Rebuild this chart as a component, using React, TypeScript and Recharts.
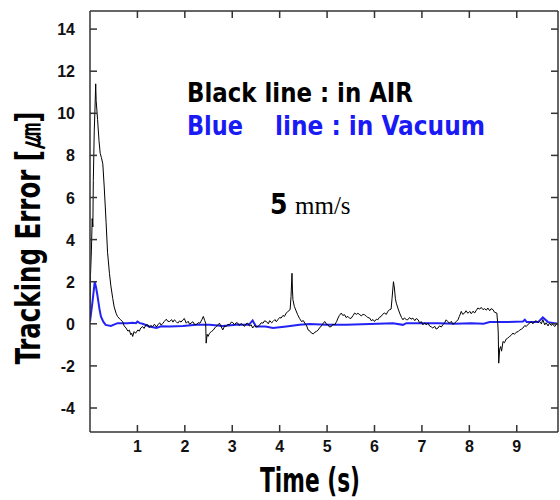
import React from "react";
import { LineChart, Line, XAxis, YAxis } from "recharts";

// tracking error in air (black)
const airTime = [
  0.0, 0.01, 0.03, 0.046, 0.06, 0.07, 0.09, 0.105, 0.12, 0.13, 0.16, 0.19, 0.215, 0.24, 0.27, 0.3, 0.34, 0.37, 0.41, 0.44,
  0.48, 0.51, 0.55, 0.58, 0.64, 0.69, 0.72, 0.76, 0.8, 0.83, 0.86, 0.88, 0.9, 0.93, 0.96, 1.01, 1.04, 1.07, 1.11, 1.14,
  1.18, 1.22, 1.25, 1.28, 1.32, 1.36, 1.4, 1.43, 1.47, 1.5, 1.54, 1.57, 1.61, 1.64, 1.68, 1.72, 1.75, 1.78, 1.82, 1.85,
  1.89, 1.92, 1.96, 1.99, 2.03, 2.07, 2.1, 2.13, 2.17, 2.2, 2.24, 2.28, 2.32, 2.36, 2.39, 2.42, 2.44, 2.45, 2.47, 2.49,
  2.52, 2.56, 2.6, 2.63, 2.66, 2.7, 2.73, 2.77, 2.8, 2.84, 2.87, 2.91, 2.94, 2.98, 3.01, 3.05, 3.08, 3.12, 3.15, 3.19,
  3.22, 3.26, 3.29, 3.33, 3.36, 3.4, 3.43, 3.47, 3.5, 3.54, 3.58, 3.61, 3.65, 3.68, 3.72, 3.76, 3.79, 3.83, 3.86, 3.9,
  3.93, 3.96, 4.0, 4.03, 4.07, 4.1, 4.14, 4.18, 4.22, 4.24, 4.26, 4.27, 4.28, 4.31, 4.34, 4.38, 4.42, 4.46, 4.5, 4.53,
  4.57, 4.6, 4.64, 4.67, 4.71, 4.74, 4.77, 4.81, 4.84, 4.88, 4.91, 4.95, 4.98, 5.02, 5.05, 5.09, 5.12, 5.16, 5.2, 5.23,
  5.26, 5.3, 5.33, 5.37, 5.4, 5.44, 5.48, 5.51, 5.55, 5.58, 5.62, 5.65, 5.69, 5.72, 5.76, 5.79, 5.83, 5.86, 5.9, 5.93,
  5.97, 6.0, 6.04, 6.07, 6.1, 6.14, 6.17, 6.21, 6.25, 6.28, 6.32, 6.35, 6.37, 6.4, 6.42, 6.44, 6.46, 6.5, 6.53, 6.57,
  6.6, 6.63, 6.67, 6.7, 6.74, 6.77, 6.81, 6.85, 6.88, 6.92, 6.95, 6.99, 7.02, 7.06, 7.09, 7.13, 7.16, 7.2, 7.23, 7.27,
  7.3, 7.34, 7.37, 7.41, 7.44, 7.48, 7.51, 7.55, 7.58, 7.62, 7.65, 7.69, 7.72, 7.76, 7.79, 7.83, 7.86, 7.9, 7.93, 7.97,
  8.01, 8.04, 8.08, 8.11, 8.15, 8.18, 8.22, 8.25, 8.29, 8.32, 8.36, 8.39, 8.43, 8.46, 8.5, 8.53, 8.58, 8.6, 8.61, 8.62,
  8.64, 8.66, 8.68, 8.71, 8.74, 8.78, 8.81, 8.85, 8.88, 8.92, 8.95, 8.99, 9.03, 9.06, 9.1, 9.13, 9.17, 9.2, 9.24, 9.27,
  9.31, 9.34, 9.38, 9.41, 9.45, 9.48, 9.52, 9.55, 9.59, 9.62, 9.66, 9.69, 9.73, 9.76, 9.8, 9.83, 9.87,
];
const airError = [
  0.3, 2.3, 3.5, 5.0, 4.6, 6.8, 9.2, 10.2, 11.4, 10.6, 9.7, 8.7, 8.1, 7.9, 7.6, 6.5, 4.8, 3.4, 2.4, 1.8,
  1.2, 0.8, 0.5, 0.35, 0.2, 0.1, -0.1, -0.2, -0.35, -0.3, -0.52, -0.45, -0.6, -0.37, -0.45, -0.29, -0.35, -0.2, -0.13, -0.22,
  -0.05, -0.05, -0.18, -0.08, -0.13, -0.02, -0.15, -0.05, 0.05, -0.06, 0.03, 0.12, 0.22, 0.12, 0.11, 0.2, 0.08, 0.19, 0.1, 0.03,
  0.14, 0.08, 0.19, 0.25, 0.03, 0.12, -0.02, 0.03, 0.1, -0.02, -0.05, 0.05, 0.03, 0.2, 0.35, 0.15, 0.03, -0.92, -0.5, -0.6,
  -0.45, -0.37, -0.3, -0.2, -0.13, -0.05, 0.03, -0.15, -0.29, -0.1, -0.13, -0.02, -0.05, 0.08, 0.06, -0.05, 0.05, 0.03, -0.08, 0.02,
  -0.05, -0.12, 0.0, 0.03, -0.1, -0.05, -0.2, -0.08, -0.15, -0.13, -0.05, 0.05, 0.03, 0.14, 0.11, 0.0, 0.15, 0.05, 0.11, 0.2,
  0.1, 0.19, 0.3, 0.27, 0.4, 0.35, 0.51, 0.6, 0.67, 1.3, 2.4, 1.6, 1.14, 0.82, 0.65, 0.43, 0.25, 0.11, 0.15, 0.03,
  -0.1, -0.29, -0.35, -0.44, -0.48, -0.4, -0.37, -0.3, -0.2, -0.1, 0.0, 0.11, 0.0, -0.05, -0.15, -0.13, -0.02, -0.05, 0.1, 0.27,
  0.4, 0.51, 0.4, 0.43, 0.3, 0.35, 0.25, 0.27, 0.4, 0.51, 0.45, 0.5, 0.43, 0.38, 0.45, 0.43, 0.35, 0.3, 0.27, 0.15,
  0.2, 0.11, 0.22, 0.19, 0.3, 0.35, 0.45, 0.51, 0.45, 0.59, 0.67, 0.7, 1.2, 2.0, 1.7, 1.2, 0.98, 0.7, 0.51, 0.3,
  0.19, 0.28, 0.2, 0.19, 0.3, 0.22, 0.27, 0.15, 0.25, 0.19, 0.05, 0.1, -0.05, 0.05, -0.05, 0.03, -0.1, -0.15, -0.2, -0.12,
  -0.25, -0.2, -0.1, -0.15, -0.05, 0.05, 0.19, 0.1, 0.03, 0.12, -0.02, 0.03, 0.1, 0.19, 0.35, 0.59, 0.45, 0.51, 0.62, 0.5,
  0.59, 0.48, 0.6, 0.51, 0.65, 0.75, 0.7, 0.78, 0.67, 0.72, 0.65, 0.75, 0.62, 0.72, 0.67, 0.55, 0.51, 0.0, -0.44, -1.87,
  -1.2, -1.08, -1.3, -0.84, -0.9, -0.72, -0.68, -0.6, -0.55, -0.44, -0.5, -0.4, -0.37, -0.3, -0.25, -0.2, -0.08, -0.13, -0.02, 0.03,
  0.1, 0.0, 0.11, 0.15, 0.05, 0.11, 0.0, 0.2, -0.05, 0.05, -0.1, 0.03, -0.08, -0.02, -0.13, -0.03, -0.05,
];

// tracking error in vacuum (blue)
const vacTime = [
  0.0, 0.05, 0.1, 0.13, 0.16, 0.2, 0.23, 0.28, 0.33, 0.44, 0.58, 0.79, 0.9, 0.97, 1.0, 1.05, 1.11, 1.25, 1.4, 1.5,
  1.68, 1.96, 2.24, 2.52, 2.8, 3.08, 3.35, 3.43, 3.5, 3.7, 3.86, 4.14, 4.42, 4.63, 4.98, 5.4, 5.9, 6.39, 6.6, 6.67,
  7.0, 7.35, 7.69, 8.04, 8.3, 8.43, 8.78, 9.13, 9.17, 9.21, 9.45, 9.55, 9.66, 9.87,
];
const vacError = [
  0.1, 1.0, 2.0, 1.7, 1.3, 0.7, 0.35, 0.1, -0.05, -0.1, 0.03, 0.03, 0.05, 0.03, 0.11, 0.03, 0.0, -0.13, -0.2, -0.12,
  -0.13, -0.1, -0.05, -0.05, -0.1, -0.05, -0.05, 0.16, -0.13, -0.13, -0.2, -0.13, -0.05, -0.01, -0.05, -0.05, -0.01, 0.03, -0.05, 0.03,
  0.03, 0.03, 0.0, 0.03, 0.0, 0.08, 0.08, 0.11, 0.19, 0.08, 0.08, 0.3, 0.08, 0.0,
];

const xTicks = [1, 2, 3, 4, 5, 6, 7, 8, 9];
const yTicks = [-4, -2, 0, 2, 4, 6, 8, 10, 12, 14];
const xDomain = [0, 9.87];
const yDomain = [-5.14, 14.86];

const airData = airTime.map((t, i) => ({ t, v: airError[i] }));
const vacData = vacTime.map((t, i) => ({ t, v: vacError[i] }));

// plot box in pixels
const PLOT_LEFT = 90;
const PLOT_TOP = 11;
const PLOT_RIGHT = 558;
const PLOT_BOTTOM = 432;

const axisColor = "#333";
const TICK_LEN = 7;
const tickFont = "Liberation Sans, Arial, sans-serif";
const headFont = "Liberation Sans Narrow, DejaVu Sans Condensed, Liberation Sans, sans-serif";

// default tickSize 6 + tickMargin 2 puts the tick anchor 8px off the axis
const ANCHOR = 8;

// mirrored ticks on the top and right edges of the box
const toPx = (t: number) => PLOT_LEFT + ((t - xDomain[0]) / (xDomain[1] - xDomain[0])) * (PLOT_RIGHT - PLOT_LEFT);
const toPy = (v: number) => PLOT_TOP + ((yDomain[1] - v) / (yDomain[1] - yDomain[0])) * (PLOT_BOTTOM - PLOT_TOP);

// ticks point into the plot, labels sit outside
function BottomTick(props: any) {
  const { x, y, payload } = props;
  const axisY = y - ANCHOR;
  return (
    <g>
      <line x1={x} x2={x} y1={axisY} y2={axisY - TICK_LEN} stroke={axisColor} strokeWidth={1.5} />
      <text x={x} y={axisY + 20} textAnchor="middle" fontFamily={tickFont} fontWeight={700} fontSize={16} fill="#111">
        {payload.value}
      </text>
    </g>
  );
}
function LeftTick(props: any) {
  const { x, y, payload } = props;
  const axisX = x + ANCHOR;
  return (
    <g>
      <line x1={axisX} x2={axisX + TICK_LEN} y1={y} y2={y} stroke={axisColor} strokeWidth={1.5} />
      <text x={axisX - 15} y={y + 6} textAnchor="end" fontFamily={tickFont} fontWeight={700} fontSize={16} fill="#111">
        {payload.value}
      </text>
    </g>
  );
}

export default function App() {
  return (
    <div style={{ position: "absolute", left: 0, top: 0, width: 560, height: 500 }}>
      <LineChart width={560} height={500} data={airData} margin={{ top: PLOT_TOP, right: 560 - PLOT_RIGHT, left: 0, bottom: 0 }}>
        <XAxis
          dataKey="t"
          type="number"
          domain={xDomain}
          ticks={xTicks}
          interval={0}
          height={500 - PLOT_BOTTOM}
          tickLine={false}
          tick={BottomTick}
          stroke={axisColor}
          strokeWidth={1.5}
          allowDataOverflow
        />
        <YAxis
          type="number"
          domain={yDomain}
          ticks={yTicks}
          interval={0}
          width={PLOT_LEFT}
          tickLine={false}
          tick={LeftTick}
          stroke={axisColor}
          strokeWidth={1.5}
          allowDataOverflow
        />
        <Line
          data={vacData}
          dataKey="v"
          type="linear"
          stroke="#2323f5"
          strokeWidth={2}
          dot={false}
          activeDot={false}
          isAnimationActive={false}
        />
        <Line
          dataKey="v"
          type="linear"
          stroke="#000"
          strokeWidth={1}
          dot={false}
          activeDot={false}
          isAnimationActive={false}
        />
      </LineChart>
      <svg width={560} height={500} style={{ position: "absolute", left: 0, top: 0, pointerEvents: "none" }}>
        <line x1={PLOT_LEFT} x2={PLOT_RIGHT} y1={PLOT_TOP} y2={PLOT_TOP} stroke={axisColor} strokeWidth={1.5} />
        <line x1={PLOT_RIGHT} x2={PLOT_RIGHT} y1={PLOT_TOP} y2={PLOT_BOTTOM} stroke={axisColor} strokeWidth={1.5} />
        {xTicks.map((t) => (
          <line key={`tx${t}`} x1={toPx(t)} x2={toPx(t)} y1={PLOT_TOP} y2={PLOT_TOP + TICK_LEN} stroke={axisColor} strokeWidth={1.5} />
        ))}
        {yTicks.map((v) => (
          <line key={`ty${v}`} x1={PLOT_RIGHT} x2={PLOT_RIGHT - TICK_LEN} y1={toPy(v)} y2={toPy(v)} stroke={axisColor} strokeWidth={1.5} />
        ))}
        <text
          x={0}
          y={0}
          transform="translate(40 238) rotate(-90)"
          textAnchor="middle"
          fontFamily={headFont}
          fontWeight={700}
          fontSize={34}
          textLength={253}
          lengthAdjust="spacingAndGlyphs"
          fill="#000"
        >
          Tracking Error [㎛]
        </text>
        <text
          x={310}
          y={492}
          textAnchor="middle"
          fontFamily={headFont}
          fontWeight={700}
          fontSize={33}
          textLength={100}
          lengthAdjust="spacingAndGlyphs"
          fill="#000"
        >
          Time (s)
        </text>
        <text x={187} y={102} fontFamily={headFont} fontWeight={700} fontSize={27} textLength={226} lengthAdjust="spacingAndGlyphs" fill="#000">
          Black line : in AIR
        </text>
        <text x={187} y={135} fontFamily={headFont} fontWeight={700} fontSize={27} textLength={56} lengthAdjust="spacingAndGlyphs" fill="#1a1af5">
          Blue
        </text>
        <text x={275} y={135} fontFamily={headFont} fontWeight={700} fontSize={27} textLength={210} lengthAdjust="spacingAndGlyphs" fill="#1a1af5">
          line : in Vacuum
        </text>
        <text x={270} y={214} fontFamily={headFont} fontWeight={700} fontSize={28} fill="#000">
          5
        </text>
        <text x={295} y={214} fontFamily="Liberation Serif, Times New Roman, serif" fontSize={25} fill="#000">
          mm/s
        </text>
      </svg>
    </div>
  );
}
